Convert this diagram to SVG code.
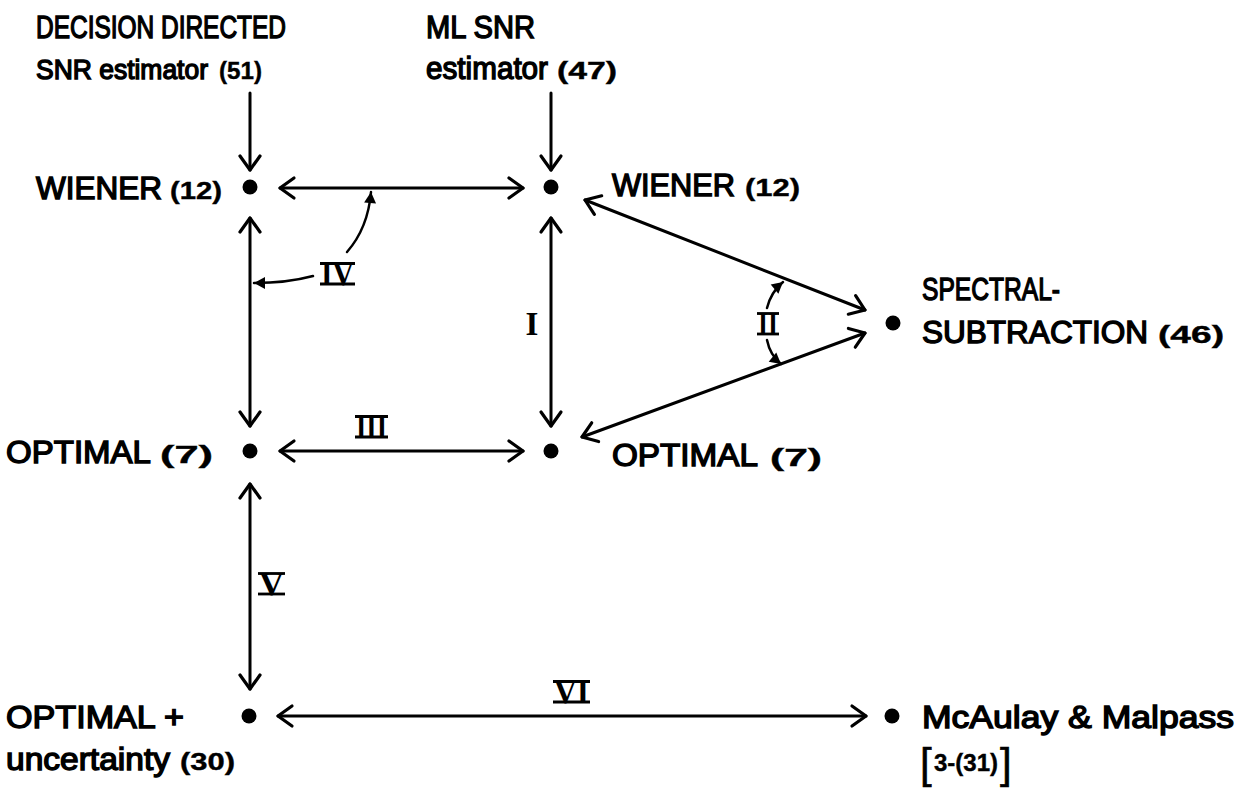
<svg xmlns="http://www.w3.org/2000/svg" width="1238" height="792" viewBox="0 0 1238 792">
<defs>
<style>
.t{font-family:"Liberation Sans",Arial,sans-serif;font-size:31px;fill:#000;stroke:#000;stroke-width:1.4}
.s{font-size:27px}
.n{font-family:"Liberation Sans",Arial,sans-serif;font-size:24px;font-weight:bold;fill:#000;stroke:#000;stroke-width:0.4}
.br{font-family:"Liberation Sans",Arial,sans-serif;font-size:42px;fill:#000;stroke:#000;stroke-width:0.6}
.r{font-family:"Liberation Serif","Times New Roman",serif;font-size:33px;font-weight:bold;fill:#000}
.b{stroke:#000;stroke-width:2.8}
.c{fill:none;stroke:#000;stroke-width:3;stroke-linecap:round}
.k{fill:none;stroke:#000;stroke-width:2.5;stroke-linecap:round}
.d{fill:#000}
</style>
<marker id="ah" markerUnits="userSpaceOnUse" markerWidth="26" markerHeight="26" viewBox="0 0 26 26" refX="22" refY="13" orient="auto-start-reverse">
<path d="M8,3 L22,13 L8,23" fill="none" stroke="#000" stroke-width="3.2" stroke-linecap="round" stroke-linejoin="round"/>
</marker>
<marker id="sm" markerUnits="userSpaceOnUse" markerWidth="14" markerHeight="14" viewBox="0 0 14 14" refX="12" refY="7" orient="auto">
<path d="M1,1 L12,7 L1,13 Z" fill="#000"/>
</marker>
</defs>
<g id="connectors">
<line class="c" x1="250" y1="93" x2="250" y2="170" marker-end="url(#ah)"/>
<line class="c" x1="551" y1="93" x2="551" y2="170" marker-end="url(#ah)"/>
<line class="c" x1="280" y1="188" x2="523" y2="188" marker-start="url(#ah)" marker-end="url(#ah)"/>
<line class="c" x1="250" y1="218" x2="250" y2="426" marker-start="url(#ah)" marker-end="url(#ah)"/>
<line class="c" x1="551" y1="218" x2="551" y2="426" marker-start="url(#ah)" marker-end="url(#ah)"/>
<line class="c" x1="585" y1="200" x2="865" y2="310" marker-start="url(#ah)" marker-end="url(#ah)"/>
<line class="c" x1="582" y1="437" x2="865" y2="333" marker-start="url(#ah)" marker-end="url(#ah)"/>
<line class="c" x1="280" y1="451" x2="523" y2="451" marker-start="url(#ah)" marker-end="url(#ah)"/>
<line class="c" x1="250" y1="484" x2="250" y2="689" marker-start="url(#ah)" marker-end="url(#ah)"/>
<line class="c" x1="278" y1="716" x2="866" y2="716" marker-start="url(#ah)" marker-end="url(#ah)"/>
<path class="k" d="M313,276 Q287,283 254,283" marker-end="url(#sm)"/>
<path class="k" d="M347,252 Q368,228 371,192" marker-end="url(#sm)"/>
<path class="k" d="M767,308 Q771,292 783,282" marker-end="url(#sm)"/>
<path class="k" d="M767,340 Q770,355 781,364" marker-end="url(#sm)"/>
</g>
<g id="roman">
<text class="r" x="321" y="285" textLength="33" lengthAdjust="spacingAndGlyphs">IV</text>
<line class="b" x1="320" y1="263.5" x2="355" y2="263.5"/><line class="b" x1="320" y1="284" x2="355" y2="284"/>
<text class="r" x="532" y="335" text-anchor="middle">I</text>
<text class="r" x="758" y="335" textLength="20" lengthAdjust="spacingAndGlyphs">II</text>
<line class="b" x1="757" y1="313.5" x2="779" y2="313.5"/><line class="b" x1="757" y1="334" x2="779" y2="334"/>
<text class="r" x="356" y="438" textLength="31" lengthAdjust="spacingAndGlyphs">III</text>
<line class="b" x1="355" y1="416.5" x2="388" y2="416.5"/><line class="b" x1="355" y1="437" x2="388" y2="437"/>
<text class="r" x="259" y="595" textLength="25" lengthAdjust="spacingAndGlyphs">V</text>
<line class="b" x1="258" y1="573.5" x2="285" y2="573.5"/><line class="b" x1="258" y1="594" x2="285" y2="594"/>
<text class="r" x="554" y="703" textLength="35" lengthAdjust="spacingAndGlyphs">VI</text>
<line class="b" x1="553" y1="681.5" x2="590" y2="681.5"/><line class="b" x1="553" y1="702" x2="590" y2="702"/>
</g>
<g id="dd-snr">
<text class="t" x="36" y="38" textLength="250" lengthAdjust="spacingAndGlyphs">DECISION DIRECTED</text>
<text class="t s" x="36" y="79" textLength="172" lengthAdjust="spacingAndGlyphs">SNR estimator</text>
<text class="n" x="219" y="79" textLength="43" lengthAdjust="spacingAndGlyphs">(51)</text>
</g>
<g id="ml-snr">
<text class="t" x="426" y="38" textLength="109" lengthAdjust="spacingAndGlyphs">ML SNR</text>
<text class="t" x="426" y="79" textLength="122" lengthAdjust="spacingAndGlyphs">estimator</text>
<text class="n" x="557" y="79" textLength="60" lengthAdjust="spacingAndGlyphs">(47)</text>
</g>
<g id="wiener-left">
<circle class="d" cx="250" cy="187" r="7.5"/>
<text class="t" x="36" y="199" textLength="126" lengthAdjust="spacingAndGlyphs">WIENER</text>
<text class="n" x="170" y="199" textLength="52" lengthAdjust="spacingAndGlyphs">(12)</text>
</g>
<g id="wiener-right">
<circle class="d" cx="551" cy="187" r="7.5"/>
<text class="t" x="612" y="196" textLength="123" lengthAdjust="spacingAndGlyphs">WIENER</text>
<text class="n" x="745" y="196" textLength="55" lengthAdjust="spacingAndGlyphs">(12)</text>
</g>
<g id="spectral">
<circle class="d" cx="893" cy="323" r="7.5"/>
<text class="t" x="922" y="300" textLength="138" lengthAdjust="spacingAndGlyphs">SPECTRAL-</text>
<text class="t" x="922" y="343" textLength="226" lengthAdjust="spacingAndGlyphs">SUBTRACTION</text>
<text class="n" x="1158" y="343" textLength="66" lengthAdjust="spacingAndGlyphs">(46)</text>
</g>
<g id="optimal-left">
<circle class="d" cx="250" cy="451" r="7.5"/>
<text class="t" x="6" y="463" textLength="145" lengthAdjust="spacingAndGlyphs">OPTIMAL</text>
<text class="n" x="160" y="463" textLength="53" lengthAdjust="spacingAndGlyphs">(7)</text>
</g>
<g id="optimal-right">
<circle class="d" cx="551" cy="451" r="7.5"/>
<text class="t" x="612" y="466" textLength="146" lengthAdjust="spacingAndGlyphs">OPTIMAL</text>
<text class="n" x="770" y="466" textLength="52" lengthAdjust="spacingAndGlyphs">(7)</text>
</g>
<g id="optimal-uncertainty">
<circle class="d" cx="249" cy="716" r="7.5"/>
<text class="t" x="6" y="728" textLength="178" lengthAdjust="spacingAndGlyphs">OPTIMAL +</text>
<text class="t" x="6" y="770" textLength="164" lengthAdjust="spacingAndGlyphs">uncertainty</text>
<text class="n" x="180" y="770" textLength="55" lengthAdjust="spacingAndGlyphs">(30)</text>
</g>
<g id="mcaulay">
<circle class="d" cx="892" cy="716" r="7.5"/>
<text class="t" x="922" y="728" textLength="312" lengthAdjust="spacingAndGlyphs">McAulay &amp; Malpass</text>
<text class="br" x="920" y="778">[</text>
<text class="n" x="934" y="771" textLength="64" lengthAdjust="spacingAndGlyphs">3-(31)</text>
<text class="br" x="1000" y="778">]</text>
</g>
</svg>
